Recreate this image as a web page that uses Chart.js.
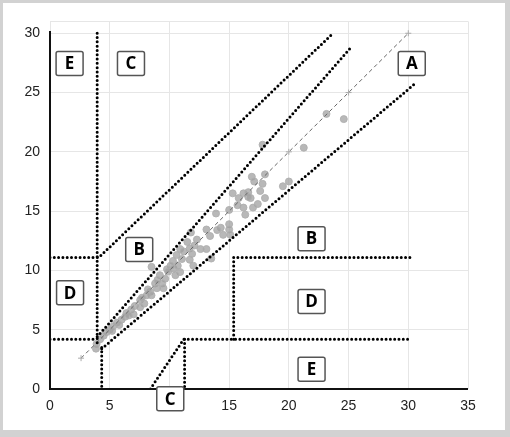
<!DOCTYPE html>
<html>
<head>
<meta charset="utf-8">
<script src="https://cdn.jsdelivr.net/npm/chart.js@4"></script>
<style>
  html, body { margin: 0; padding: 0; background: #d2d2d2; }
  #wrap { position: absolute; left: 3px; top: 3px; width: 502px; height: 427px; background: #fff; }
</style>
</head>
<body>
<div id="wrap"><canvas id="grafico" width="502" height="427"></canvas></div>
<script>
const medidoX = [23.15, 24.6, 21.25, 17.8, 18.0, 16.9, 17.1, 17.8, 19.5, 20.0,
  15.3, 16.2, 16.6, 17.6, 15.8, 16.8, 18.0, 17.4, 17.0, 16.2, 15.7, 15.0, 13.9, 16.35,
  14.3, 15.0, 15.0, 14.5, 15.1, 13.1, 13.4, 11.8, 12.3, 12.6, 13.1, 10.9, 11.7, 10.6, 11.9,
  11.05, 11.7, 12.0, 13.5, 10.3, 10.1, 10.35, 9.8, 10.9, 10.5, 8.5, 9.2, 9.65, 8.8, 9.4,
  8.95, 9.5, 8.4, 8.5, 8.1, 7.55, 7.9, 7.1, 7.55, 6.8, 7.0, 6.4, 6.3, 6.0, 5.6, 5.3,
  5.0, 4.75, 4.5, 4.2, 3.9, 3.85, 11.2, 11.5, 10.7, 9.9, 9.0, 8.2, 7.7, 6.6, 5.8, 5.2,
  12.1, 14.0, 16.6];
const estimadoY = [23.2, 22.76, 20.35, 20.6, 18.1, 17.9, 17.5, 17.3, 17.1, 17.5,
  16.5, 16.5, 16.6, 16.7, 16.1, 16.1, 16.1, 15.6, 15.3, 15.3, 15.5, 15.1, 14.8, 14.7,
  13.6, 13.9, 13.45, 13.0, 13.0, 13.45, 12.9, 13.2, 12.6, 11.8, 11.8, 11.8, 11.85, 11.3, 11.4,
  10.96, 10.9, 10.4, 11.0, 10.8, 10.4, 10.15, 10.1, 9.86, 9.6, 10.3, 9.6, 9.3, 8.9, 8.9,
  8.5, 8.5, 8.2, 7.9, 7.9, 7.5, 7.2, 7.0, 6.9, 6.7, 6.3, 6.4, 6.1, 5.85, 5.6, 5.3,
  5.0, 4.8, 4.5, 4.2, 3.8, 3.4, 11.6, 12.4, 10.4, 9.9, 9.2, 8.4, 7.7, 6.2, 5.4, 4.9,
  12.1, 13.4, 16.2];

// lineas de las zonas (x, y)
const identidadX = [2.6, 20, 25, 30];
const identidadY = [2.6, 20, 25, 30];
const bSupX = [0, 4.1, 23.7];
const bSupY = [11.1, 11.1, 30];
const verticalIzqX = [3.95, 3.95];
const verticalIzqY = [30, 3.8];
const verticalBajaX = [4.33, 4.33];
const verticalBajaY = [3.5, 0];
const horizIzqX = [0, 3.95];
const horizIzqY = [4.2, 4.2];
const aSupX = [3.95, 25.2];
const aSupY = [4.4, 28.8];
const aInfX = [4.33, 30.5];
const aInfY = [3.4, 25.7];
const cInfX = [8.4, 11.2, 30.3];
const cInfY = [0, 4.2, 4.2];
const cVertX = [11.27, 11.27];
const cVertY = [4.2, 0];
const dDerX = [15.38, 15.38, 30.3];
const dDerY = [4.2, 11.1, 11.1];

// etiquetas de zona
const zonaLetra = ['E', 'C', 'A', 'B', 'B', 'D', 'D', 'E', 'C'];
const zonaX = [1.64, 6.78, 30.29, 7.47, 21.9, 1.68, 21.9, 21.9, 10.07];
const zonaY = [27.46, 27.46, 27.46, 11.76, 12.68, 8.12, 7.37, 1.66, -0.83];

const ticksX = [0, 5, 10, 15, 20, 25, 30, 35];
const ticksY = [0, 5, 10, 15, 20, 25, 30, 31];

function pares(xs, ys) {
  return xs.map((x, i) => ({ x: x, y: ys[i] }));
}

function lineaPunteada(xs, ys) {
  return {
    data: pares(xs, ys),
    showLine: true,
    borderColor: '#000',
    borderWidth: 3,
    borderDash: [0, 4.3],
    borderCapStyle: 'round',
    pointRadius: 0,
    order: 1
  };
}

const datasets = [
  lineaPunteada(bSupX, bSupY),
  lineaPunteada(verticalIzqX, verticalIzqY),
  lineaPunteada(verticalBajaX, verticalBajaY),
  lineaPunteada(horizIzqX, horizIzqY),
  lineaPunteada(aSupX, aSupY),
  lineaPunteada(aInfX, aInfY),
  lineaPunteada(cInfX, cInfY),
  lineaPunteada(cVertX, cVertY),
  lineaPunteada(dDerX, dDerY),
  {
    data: pares(identidadX, identidadY),
    showLine: true,
    borderColor: '#666',
    borderWidth: 1,
    borderDash: [4, 3],
    pointStyle: 'cross',
    pointRadius: 3,
    pointBorderColor: '#aaa',
    pointBorderWidth: 1,
    order: 2
  },
  {
    data: pares(medidoX, estimadoY),
    backgroundColor: 'rgba(160,160,160,0.75)',
    borderColor: 'rgba(175,175,175,0.9)',
    borderWidth: 1,
    pointRadius: 3.5,
    order: 3
  }
];

// dibuja los ejes negros y los recuadros de las zonas
const extras = {
  id: 'extras',
  afterDatasetsDraw(chart) {
    const ctx = chart.ctx;
    const sx = chart.scales.x;
    const sy = chart.scales.y;
    const x0 = sx.getPixelForValue(0);
    const y0 = sy.getPixelForValue(0);
    ctx.save();
    ctx.strokeStyle = '#111';
    ctx.lineWidth = 2;
    ctx.beginPath();
    ctx.moveTo(x0, sy.getPixelForValue(30.2));
    ctx.lineTo(x0, y0);
    ctx.lineTo(sx.getPixelForValue(35), y0);
    ctx.stroke();

    ctx.font = 'bold 17px "Open Sans", sans-serif';
    ctx.textAlign = 'center';
    ctx.textBaseline = 'middle';
    zonaLetra.forEach((letra, i) => {
      const cx = sx.getPixelForValue(zonaX[i]);
      const cy = sy.getPixelForValue(zonaY[i]);
      ctx.beginPath();
      ctx.roundRect(cx - 13.5, cy - 12, 27, 24, 2);
      ctx.fillStyle = '#fff';
      ctx.fill();
      ctx.lineWidth = 1.5;
      ctx.strokeStyle = '#555';
      ctx.stroke();
      ctx.fillStyle = '#000';
      ctx.fillText(letra, cx, cy + 1);
    });
    ctx.restore();
  }
};

new Chart(document.getElementById('grafico'), {
  type: 'scatter',
  data: { datasets: datasets },
  options: {
    responsive: false,
    animation: false,
    devicePixelRatio: 1,
    layout: { padding: { left: 0, top: 12, right: 37, bottom: 0 } },
    plugins: { legend: { display: false }, tooltip: { enabled: false } },
    scales: {
      x: {
        type: 'linear',
        min: 0,
        max: 35,
        afterBuildTicks: (s) => { s.ticks = ticksX.map(v => ({ value: v })); },
        afterFit: (s) => { s.height = 41; },
        grid: { color: '#e6e6e6', drawTicks: false },
        border: { display: false },
        ticks: { padding: 9, color: '#222', font: { family: 'Liberation Sans', size: 14 } }
      },
      y: {
        type: 'linear',
        min: 0,
        max: 31,
        afterBuildTicks: (s) => { s.ticks = ticksY.map(v => ({ value: v })); },
        ticks: {
          padding: 10,
          color: '#222',
          font: { family: 'Liberation Sans', size: 14 },
          callback: (v) => (v % 5 === 0 ? v : '')
        },
        afterFit: (s) => { s.width = 47; },
        grid: { color: '#e6e6e6', drawTicks: false },
        border: { display: false }
      }
    }
  },
  plugins: [extras]
});
</script>
</body>
</html>
